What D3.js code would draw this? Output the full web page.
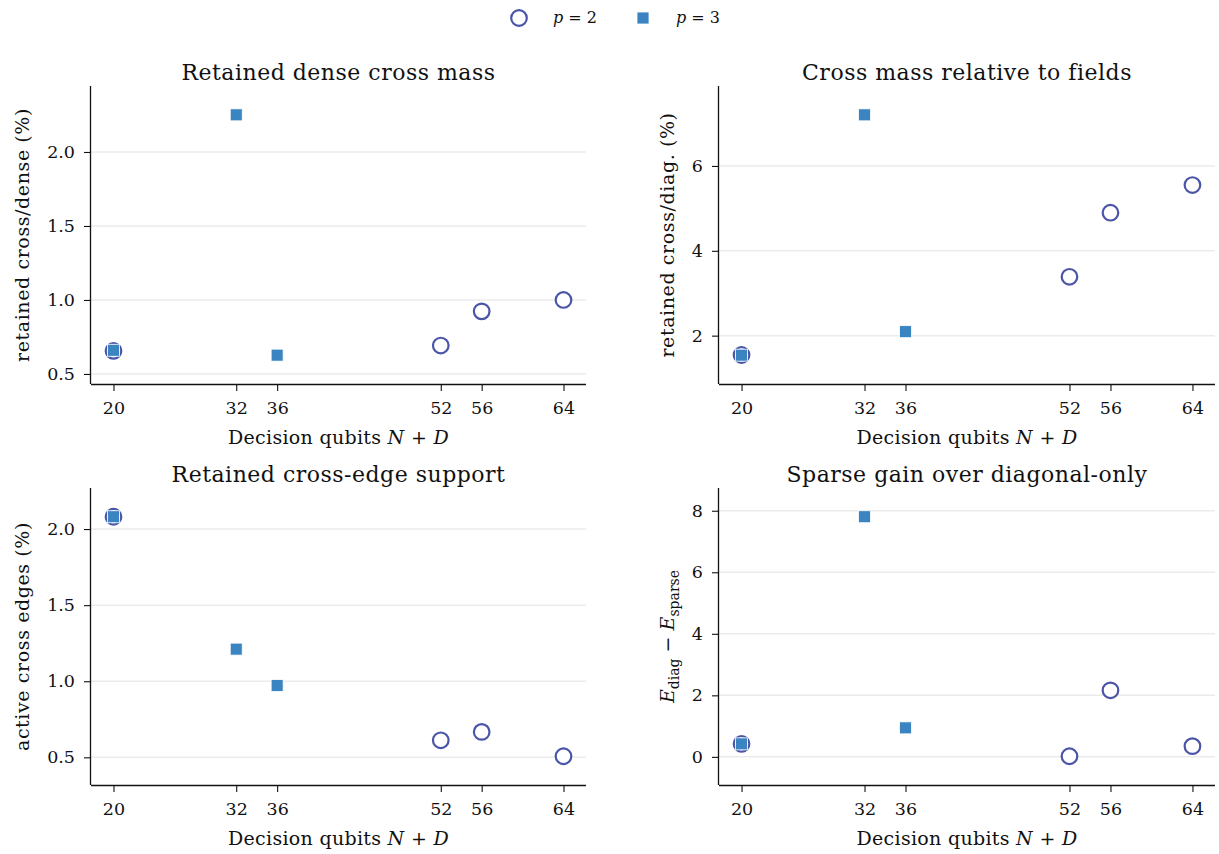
<!DOCTYPE html>
<html>
<head>
<meta charset="utf-8">
<script src="https://cdn.jsdelivr.net/npm/d3@7"></script>
<style>
  html, body { margin: 0; padding: 0; background: #fff; }
  svg { display: block; }
  text { font-family: "DejaVu Serif", serif; fill: #111; }
</style>
</head>
<body>
<svg id="chart" width="1219" height="854"></svg>
<script>
// Decision-qubit sizes for each QAOA depth
const qubitsP2 = [20, 52, 56, 64];
const qubitsP3 = [20, 32, 36];
const xTickValues = [20, 32, 36, 52, 56, 64];

// Retained dense cross mass (%)
const denseP2 = [0.656, 0.692, 0.923, 1.0];
const denseP3 = [0.66, 2.251, 0.627];
// Cross mass relative to fields (%)
const diagP2 = [1.544, 3.387, 4.898, 5.55];
const diagP3 = [1.54, 7.205, 2.094];
// Active cross edges (%)
const edgesP2 = [2.081, 0.612, 0.667, 0.507];
const edgesP3 = [2.081, 1.211, 0.972];
// Energy gain of sparse over diagonal-only
const gainP2 = [0.423, 0.02, 2.163, 0.348];
const gainP3 = [0.423, 7.805, 0.943];

const yTicksDense = [0.5, 1.0, 1.5, 2.0];
const yTicksDiag = [2, 4, 6];
const yTicksEdges = [0.5, 1.0, 1.5, 2.0];
const yTicksGain = [0, 2, 4, 6, 8];

const titles = ["Retained dense cross mass", "Cross mass relative to fields",
                "Retained cross-edge support", "Sparse gain over diagonal-only"];

const colorP2 = "#4a55a8";
const colorP3 = "#3a84c1";

const svg = d3.select("#chart");

const panels = [
  { title: titles[0], p2: denseP2, p3: denseP3, ticks: yTicksDense, fmt: d3.format(".1f"), ylabel: "retained cross/dense (%)", box: [91, 586, 86, 384] },
  { title: titles[1], p2: diagP2, p3: diagP3, ticks: yTicksDiag, fmt: d3.format("d"), ylabel: "retained cross/diag. (%)", box: [719, 1215, 86, 384] },
  { title: titles[2], p2: edgesP2, p3: edgesP3, ticks: yTicksEdges, fmt: d3.format(".1f"), ylabel: "active cross edges (%)", box: [91, 586, 488, 785] },
  { title: titles[3], p2: gainP2, p3: gainP3, ticks: yTicksGain, fmt: d3.format("d"), ylabel: null, box: [719, 1215, 488, 785] }
];

const xExtent = d3.extent(xTickValues);
const xPad = 0.05 * (xExtent[1] - xExtent[0]);
const tickFont = "17.5px";
const labelFont = "19px";
const labelSpacing = "0.6px";

panels.forEach((pn, i) => {
  const [x0, x1, y0, y1] = pn.box;
  const x = d3.scaleLinear().domain([xExtent[0] - xPad, xExtent[1] + xPad]).range([x0, x1]);
  const all = pn.p2.concat(pn.p3);
  const ext = d3.extent(all);
  const yPad = 0.12 * (ext[1] - ext[0]);
  const y = d3.scaleLinear().domain([ext[0] - yPad, ext[1] + yPad]).range([y1, y0]);

  const g = svg.append("g");

  // horizontal grid
  g.append("g").selectAll("line").data(pn.ticks).join("line")
    .attr("x1", x0).attr("x2", x1)
    .attr("y1", d => y(d)).attr("y2", d => y(d))
    .attr("stroke", "#ebebeb").attr("stroke-width", 1.5);

  // axes
  const xAxis = g.append("g").attr("transform", `translate(0,${y1})`)
    .call(d3.axisBottom(x).tickValues(xTickValues).tickSize(7).tickPadding(11).tickFormat(d3.format("d")));
  const yAxis = g.append("g").attr("transform", `translate(${x0},0)`)
    .call(d3.axisLeft(y).tickValues(pn.ticks).tickSize(7).tickPadding(9).tickFormat(pn.fmt));
  [xAxis, yAxis].forEach(a => {
    a.select(".domain").attr("stroke", "#111").attr("stroke-width", 1.3);
    a.selectAll(".tick line").attr("stroke", "#111").attr("stroke-width", 1.1);
    a.selectAll(".tick text").style("font-family", "DejaVu Serif, serif").style("font-size", tickFont).attr("fill", "#111");
  });
  // keep spine ends exact (no outer ticks)
  xAxis.select(".domain").attr("d", `M${x0},0.5H${x1}`);
  yAxis.select(".domain").attr("d", `M-0.5,${y0}V${y1}`);

  // widest y tick label, used to place the y label
  let maxW = 0;
  yAxis.selectAll(".tick text").each(function () { maxW = Math.max(maxW, this.getBBox().width); });

  // title
  g.append("text").attr("x", (x0 + x1) / 2).attr("y", y0 - 6)
    .attr("text-anchor", "middle").style("font-size", "22px").style("letter-spacing", "0.5px").text(pn.title);

  // x label
  const xl = g.append("text").attr("x", (x0 + x1) / 2).attr("y", y1 + 60)
    .attr("text-anchor", "middle").style("font-size", labelFont).style("letter-spacing", "0.3px");
  xl.append("tspan").text("Decision qubits ");
  xl.append("tspan").style("font-style", "italic").text("N");
  xl.append("tspan").text(" + ");
  xl.append("tspan").style("font-style", "italic").text("D");

  // y label
  const yl = g.append("text")
    .attr("transform", `translate(${x0 - 16 - maxW - 18},${(y0 + y1) / 2}) rotate(-90)`)
    .attr("text-anchor", "middle").style("font-size", labelFont);
  if (pn.ylabel) {
    yl.style("letter-spacing", labelSpacing).text(pn.ylabel);
  } else {
    yl.attr("dy", 0);
    yl.append("tspan").style("font-style", "italic").text("E");
    yl.append("tspan").attr("dy", 5).style("font-size", "14px").text("diag");
    yl.append("tspan").attr("dy", -5).text(" \u2212 ");
    yl.append("tspan").style("font-style", "italic").text("E");
    yl.append("tspan").attr("dy", 5).style("font-size", "14px").text("sparse");
  }

  // p = 2 circles
  g.append("g").selectAll("circle").data(pn.p2.map((v, k) => [qubitsP2[k], v])).join("circle")
    .attr("cx", d => x(d[0])).attr("cy", d => y(d[1])).attr("r", 7.8)
    .attr("fill", "#fff").attr("stroke", colorP2).attr("stroke-width", 2.2);

  // p = 3 squares
  const s = 12;
  g.append("g").selectAll("rect").data(pn.p3.map((v, k) => [qubitsP3[k], v])).join("rect")
    .attr("x", d => x(d[0]) - s / 2).attr("y", d => y(d[1]) - s / 2)
    .attr("width", s).attr("height", s)
    .attr("fill", colorP3).attr("stroke", "#fff").attr("stroke-width", 0.8);
});

// legend
const lg = svg.append("g");
lg.append("circle").attr("cx", 519).attr("cy", 18).attr("r", 7.8)
  .attr("fill", "#fff").attr("stroke", colorP2).attr("stroke-width", 2.2);
const t2 = lg.append("text").attr("x", 553).attr("y", 23).style("font-size", "16px");
t2.append("tspan").style("font-style", "italic").text("p");
t2.append("tspan").text(" = 2");
lg.append("rect").attr("x", 637).attr("y", 12).attr("width", 12).attr("height", 12)
  .attr("fill", colorP3).attr("stroke", "#fff").attr("stroke-width", 0.8);
const t3 = lg.append("text").attr("x", 676).attr("y", 23).style("font-size", "16px");
t3.append("tspan").style("font-style", "italic").text("p");
t3.append("tspan").text(" = 3");
</script>
</body>
</html>
